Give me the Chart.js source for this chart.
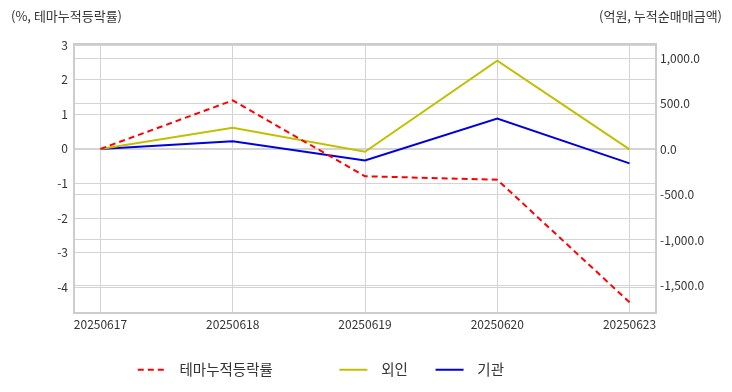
<!DOCTYPE html>
<html>
<head>
<meta charset="utf-8">
<script src="https://cdn.jsdelivr.net/npm/chart.js@4/dist/chart.umd.min.js"></script>
<style>
    body { margin: 0; background: #fff; }
    #wrap { position: relative; width: 732px; height: 392px; }
    .unit { position: absolute; top: 8px; font: 13px "Noto Sans CJK KR", sans-serif; color: #333; line-height: 16px; }
    #unitLeft { left: 11px; }
    #unitRight { right: 10px; }
</style>
</head>
<body>
<div id="wrap">
    <canvas id="themeChart" width="732" height="392"></canvas>
    <div class="unit" id="unitLeft">(%, 테마누적등락률)</div>
    <div class="unit" id="unitRight">(억원, 누적순매매금액)</div>
</div>
<script>
const dates = ['20250617', '20250618', '20250619', '20250620', '20250623'];
const themeRate = [0, 1.40, -0.79, -0.89, -4.43];
const foreignNet = [0, 235, -30, 971, -3];
const instNet = [0, 85, -125, 334, -158];
const leftTicks = [-4, -3, -2, -1, 0, 1, 2, 3];
const rightTicks = [-1500, -1000, -500, 0, 500, 1000];

// legend text gets padded so the items land where the original puts them
const legendPad = {
    '테마누적등락률': '  테마누적등락률\u3000\u3000\u3000    ',
    '외인': '  외인\u3000 ',
    '기관': '  기관\u3000\u3000\u3000\u3000\u3000\u3000 '
};

const toPoints = arr => arr.map((v, i) => ({ x: i, y: v }));
const gridColor = '#d4d4d4';
const tickFont = { family: '"Noto Sans CJK KR", sans-serif', size: 12 };

const areaBorder = {
    id: 'areaBorder',
    afterDraw(chart) {
        const { ctx, chartArea } = chart;
        ctx.save();
        ctx.strokeStyle = '#cccccc';
        ctx.lineWidth = 2;
        ctx.strokeRect(chartArea.left, chartArea.top, chartArea.right - chartArea.left, chartArea.bottom - chartArea.top);
        ctx.restore();
    }
};

const ctx = document.getElementById('themeChart').getContext('2d');

let themeChart = new Chart(ctx, {
    type: 'line',
    data: {
        datasets: [{
            label: '테마누적등락률',
            data: toPoints(themeRate),
            borderColor: '#ff0000',
            backgroundColor: '#ff0000',
            borderWidth: 2,
            borderDash: [6, 4],
            pointRadius: 0,
            yAxisID: 'y'
        }, {
            label: '외인',
            data: toPoints(foreignNet),
            borderColor: '#c0c000',
            backgroundColor: '#c0c000',
            borderWidth: 2,
            pointRadius: 0,
            yAxisID: 'y1'
        }, {
            label: '기관',
            data: toPoints(instNet),
            borderColor: '#0000e0',
            backgroundColor: '#0000e0',
            borderWidth: 2,
            pointRadius: 0,
            yAxisID: 'y1'
        }]
    },
    options: {
        responsive: false,
        animation: false,
        devicePixelRatio: 1,
        layout: { padding: { top: 44, bottom: 5, left: 0, right: 0 } },
        plugins: {
            tooltip: { enabled: false },
            legend: {
                position: 'bottom',
                labels: {
                    usePointStyle: true,
                    pointStyle: 'line',
                    pointStyleWidth: 28,
                    padding: 10,
                    color: '#333',
                    font: { family: '"Noto Sans CJK KR", sans-serif', size: 14.5 },
                    generateLabels(chart) {
                        const items = Chart.defaults.plugins.legend.labels.generateLabels(chart);
                        items.forEach((item, i) => {
                            const ds = chart.data.datasets[i];
                            item.text = legendPad[item.text] || item.text;
                            item.pointStyle = 'line';
                            item.strokeStyle = ds.borderColor;
                            item.lineWidth = 2;
                            item.lineDash = ds.borderDash || [];
                        });
                        return items;
                    }
                }
            }
        },
        scales: {
            x: {
                type: 'linear',
                min: -0.2,
                max: 4.2,
                afterBuildTicks: scale => { scale.ticks = dates.map((d, i) => ({ value: i })); },
                afterFit: scale => { scale.height = 39.5; },
                ticks: {
                    color: '#333',
                    font: tickFont,
                    padding: 4,
                    maxRotation: 0,
                    callback: value => dates[value]
                },
                grid: { color: gridColor, drawTicks: false },
                border: { display: false }
            },
            y: {
                position: 'left',
                min: -4.74,
                max: 3.03,
                afterBuildTicks: scale => { scale.ticks = leftTicks.map(v => ({ value: v })); },
                afterFit: scale => { scale.width = 74; },
                ticks: { color: '#333', font: tickFont, padding: 6 },
                grid: { color: gridColor, drawTicks: false },
                border: { display: false }
            },
            y1: {
                position: 'right',
                min: -1803,
                max: 1155,
                afterBuildTicks: scale => { scale.ticks = rightTicks.map(v => ({ value: v })); },
                afterFit: scale => { scale.width = 76; },
                ticks: {
                    color: '#333',
                    font: tickFont,
                    padding: 4,
                    callback: value => value.toLocaleString('en-US', { minimumFractionDigits: 1, maximumFractionDigits: 1 })
                },
                grid: { color: gridColor, drawTicks: false },
                border: { display: false }
            }
        }
    },
    plugins: [areaBorder]
});
</script>
</body>
</html>
